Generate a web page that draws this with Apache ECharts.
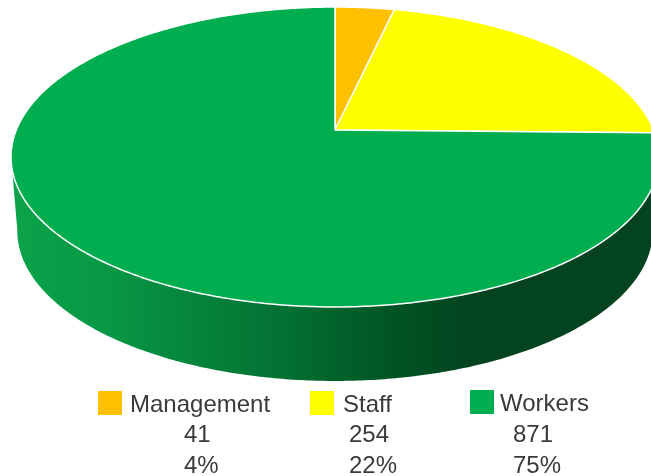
<!DOCTYPE html>
<html>
<head>
    <meta charset="utf-8">
    <title>Management, Staff, Workers</title>
    <script type="text/javascript" src="https://cdn.jsdelivr.net/npm/echarts@6/dist/echarts.min.js"></script>
    <style>
        html, body { margin: 0; padding: 0; background: #fff; }
        #main { width: 651px; height: 476px; }
    </style>
</head>
<body>
    <div id="main"></div>
    <script type="text/javascript">
        var categories = ['Management', 'Staff', 'Workers'];
        var values = [41, 254, 871];
        var percentLabels = ['4%', '22%', '75%'];
        var colors = ['#FFC000', '#FFFF00', '#00AE4F'];

        var total = values.reduce(function (a, b) { return a + b; }, 0);

        // perspective disc: the unit circle is projected so the pie centre sits above the ellipse centre
        var tilt = 0.18;
        var topFace = { cx: 335, cy: 130, rx: 318.7, ry: 145.1 };
        var bottomFace = { cx: 335, cy: 204, rx: 312.5, ry: 145.1 };
        // angles where the two rims touch their outer tangent lines
        var wallFrom = Math.PI * 100 / 180;
        var wallTo = Math.PI * 260 / 180;

        function project(face, angle) {
            var x = Math.sin(angle);
            var y = -Math.cos(angle);
            var d = 1 - tilt * y;
            return [face.cx + face.rx * x / d, face.cy + face.ry * y / d];
        }

        function rim(face, start, end) {
            var pts = [];
            var steps = Math.max(2, Math.ceil((end - start) / 0.01));
            for (var i = 0; i <= steps; i++) {
                pts.push(project(face, start + (end - start) * i / steps));
            }
            return pts;
        }

        var wallGradient = new echarts.graphic.LinearGradient(11, 0, 659, 0, [
            { offset: 0, color: '#0BA34A' },
            { offset: 0.14, color: '#089845' },
            { offset: 0.3, color: '#04823A' },
            { offset: 0.43, color: '#036F31' },
            { offset: 0.6, color: '#015223' },
            { offset: 0.72, color: '#03431F' },
            { offset: 1, color: '#03431F' }
        ], true);

        function renderSlice(params, api) {
            var i = params.seriesIndex;
            var before = 0;
            for (var k = 0; k < i; k++) {
                before += values[k];
            }
            var start = before / total * Math.PI * 2;
            var end = (before + api.value(0)) / total * Math.PI * 2;
            var children = [];

            var wallStart = Math.max(start, wallFrom);
            var wallEnd = Math.min(end, wallTo);
            if (wallEnd > wallStart) {
                children.push({
                    type: 'polygon',
                    shape: { points: rim(topFace, wallStart, wallEnd).concat(rim(bottomFace, wallStart, wallEnd).reverse()) },
                    style: { fill: wallGradient, stroke: null }
                });
            }

            var top = [[topFace.cx, topFace.cy]].concat(rim(topFace, start, end));
            children.push({
                type: 'polygon',
                shape: { points: top },
                style: { fill: colors[i], stroke: '#fff', lineWidth: 1.5, lineJoin: 'round' }
            });
            return { type: 'group', children: children };
        }

        var series = [];
        for (var i = 0; i < categories.length; i++) {
            series.push({
                type: 'custom',
                name: categories[i],
                coordinateSystem: 'none',
                itemStyle: { color: colors[i] },
                renderItem: renderSlice,
                data: [[values[i]]],
                silent: true,
                animation: false
            });
        }

        var legendLeft = [98, 310, 470];
        var legendTop = [391, 391, 390];
        var legendTextGap = [3, 4, 1];
        var legends = [];
        var texts = [];
        var numberLeft = [184, 349, 513];
        for (var i = 0; i < categories.length; i++) {
            legends.push({
                data: [{ name: categories[i], icon: 'rect' }],
                left: legendLeft[i],
                top: legendTop[i],
                padding: 0,
                itemWidth: 24,
                itemHeight: 24,
                itemStyle: { borderWidth: 0 },
                selectedMode: false,
                formatter: '{a|{name}}',
                textStyle: {
                    padding: [0, 0, 0, legendTextGap[i]],
                    rich: {
                        a: {
                            fontFamily: 'Liberation Sans',
                            fontSize: 24,
                            color: '#3A3A3A',
                            padding: [5, 0, 0, 0]
                        }
                    }
                }
            });
            texts.push({
                type: 'text',
                left: numberLeft[i],
                top: 423,
                style: { text: String(values[i]), font: '24px "Liberation Sans"', fill: '#3A3A3A' }
            });
            texts.push({
                type: 'text',
                left: numberLeft[i],
                top: 454,
                style: { text: percentLabels[i], font: '24px "Liberation Sans"', fill: '#3A3A3A' }
            });
        }

        var myChart = echarts.init(document.getElementById('main'), null, { renderer: 'canvas' });
        myChart.setOption({
            animation: false,
            legend: legends,
            graphic: texts,
            series: series
        });
    </script>
</body>
</html>
